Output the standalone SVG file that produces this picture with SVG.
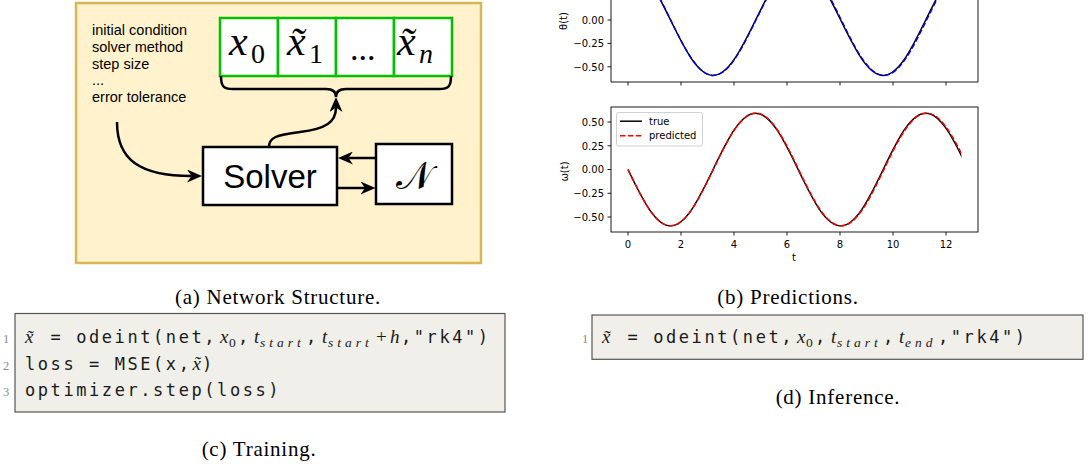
<svg xmlns="http://www.w3.org/2000/svg" width="1088" height="468" viewBox="0 0 1088 468">
<style>
.mono{font-family:"DejaVu Sans Mono",monospace;font-size:17px;letter-spacing:2.57px;fill:#1a1a1a}
.mi{font-family:"Liberation Serif",serif;font-style:italic;font-size:19px;fill:#1a1a1a}
.mr{font-family:"Liberation Serif",serif;font-size:19px;fill:#1a1a1a}
.sub{font-size:13.5px}
.ln{font-family:"Liberation Serif",serif;font-size:12.5px;fill:#8a8a8a}
.tick{font-family:"DejaVu Sans",sans-serif;font-size:10px;fill:#000}
.cap{font-family:"Liberation Serif",serif;font-size:21px;letter-spacing:0.75px;text-anchor:middle;fill:#000}
.arial{font-family:"Liberation Sans",Arial,sans-serif;fill:#000}
.conn{fill:none;stroke:#000;stroke-width:2.5}
.spine{stroke:#000;stroke-width:0.9;fill:none}
.tk{stroke:#000;stroke-width:0.9}
.codebox{fill:#f0efe9;stroke:#555;stroke-width:1.2}
.cell{fill:#fff;stroke:#00c000;stroke-width:2.5}
.big{font-family:"Liberation Serif",serif;font-style:italic;font-size:42px;fill:#000}
.bigsub{font-family:"Liberation Serif",serif;font-size:28px;fill:#000}
</style>
<defs>
<marker id="arr" viewBox="0 0 15 13" markerWidth="15" markerHeight="13" refX="4.5" refY="6.5" orient="auto" markerUnits="userSpaceOnUse">
<path d="M0,0 L15,6.5 L0,13 L4.5,6.5 Z" fill="#000"/>
</marker>
<clipPath id="clipTop"><rect x="611" y="-50" width="350.4" height="132"/></clipPath>
<clipPath id="clipBot"><rect x="611" y="107" width="350.4" height="125"/></clipPath>
<path id="theta" d="M628,-35.4 C642.95,-35.4 655.58,-10.6 670.53,20 C685.48,50.6 698.11,75.4 713.06,75.4 C728.01,75.4 740.64,50.6 755.59,20 C770.54,-10.6 783.17,-35.4 798.12,-35.4 C813.07,-35.4 825.7,-10.6 840.65,20 C855.6,50.6 868.23,75.4 883.18,75.4 C898.13,75.4 910.76,50.6 925.71,20 C940.66,-10.6 953.29,-35.4 968.24,-35.4"/>
<path id="omega" d="M628,169.5 C642.95,200.6 655.58,225.8 670.53,225.8 C685.48,225.8 698.11,200.6 713.06,169.5 C728.01,138.4 740.64,113.2 755.59,113.2 C770.54,113.2 783.17,138.4 798.12,169.5 C813.07,200.6 825.7,225.8 840.65,225.8 C855.6,225.8 868.23,200.6 883.18,169.5 C898.13,138.4 910.76,113.2 925.71,113.2 C940.66,113.2 953.29,138.4 968.24,169.5"/>
</defs>

<!-- (a) Network structure -->
<rect id="panelA" x="76" y="3" width="405" height="260" fill="#fff2cc" stroke="#d6b656" stroke-width="2.5"/>

<g id="params" class="arial" font-size="14.5">
<text x="92" y="35">initial condition</text>
<text x="92" y="52">solver method</text>
<text x="92" y="68.5">step size</text>
<text x="92" y="85">...</text>
<text x="92" y="102">error tolerance</text>
</g>

<g id="vector">
<rect class="cell" x="220" y="18" width="58" height="58"/>
<rect class="cell" x="278" y="18" width="58" height="58"/>
<rect class="cell" x="336" y="18" width="58" height="58"/>
<rect class="cell" x="394" y="18" width="58" height="58"/>
<text class="big" x="229" y="55">x</text><text class="bigsub" x="251" y="63">0</text>
<text class="big" x="287" y="55">x&#x303;</text><text class="bigsub" x="309" y="63">1</text>
<text x="350" y="60" font-family="Liberation Serif,serif" font-size="34">...</text>
<text class="big" x="397" y="55">x&#x303;</text><text class="bigsub" x="419" y="63" font-style="italic">n</text>
</g>

<g id="brace">
<path d="M221,76 C221,86 223,89 233,89 L326,89 C333,89 336,92 336,97 C336,92 339,89 346,89 L439,89 C449,89 451,86 451,76" fill="none" stroke="#000" stroke-width="2.5"/>
</g>

<g id="solver">
<rect x="203" y="147" width="134" height="58" fill="#fff" stroke="#000" stroke-width="2.5"/>
<text class="arial" x="270" y="188" font-size="33" text-anchor="middle">Solver</text>
</g>

<g id="nnet">
<rect x="376" y="144" width="76" height="60" fill="#fff" stroke="#000" stroke-width="2.5"/>
<text x="414" y="189" font-family="DejaVu Serif,Liberation Serif,serif" font-size="38" text-anchor="middle">&#x1D4A9;</text>
</g>

<g id="connectors">
<path class="conn" d="M117,122 C117,160 140,176 191.5,176" marker-end="url(#arr)"/>
<path class="conn" d="M269,147 C269,138 275,135 300,132 C326,129 336,122 336,107.5" marker-end="url(#arr)"/>
<path class="conn" d="M376,158 L348.5,158" marker-end="url(#arr)"/>
<path class="conn" d="M337,188 L365,188" marker-end="url(#arr)"/>
</g>

<!-- (b) Predictions -->
<g id="plot-theta">
<g clip-path="url(#clipTop)" fill="none">
<use href="#theta" stroke="#000" stroke-width="1.5"/>
<use href="#theta" stroke="#0000ff" stroke-width="1.5" stroke-dasharray="5.5,2.4" transform="translate(628,0) scale(1.003,1) translate(-628,0)"/>
</g>
<path class="spine" d="M611,-50 L611,82 L978,82 L978,-50"/>
<g class="tk">
<line x1="628" y1="82" x2="628" y2="85.5"/><line x1="681" y1="82" x2="681" y2="85.5"/><line x1="734" y1="82" x2="734" y2="85.5"/><line x1="787" y1="82" x2="787" y2="85.5"/><line x1="840" y1="82" x2="840" y2="85.5"/><line x1="893" y1="82" x2="893" y2="85.5"/><line x1="946" y1="82" x2="946" y2="85.5"/>
<line x1="607.5" y1="-3.4" x2="611" y2="-3.4"/><line x1="607.5" y1="20" x2="611" y2="20"/><line x1="607.5" y1="43.4" x2="611" y2="43.4"/><line x1="607.5" y1="66.8" x2="611" y2="66.8"/>
</g>
<g class="tick" text-anchor="end">
<text x="604" y="0.3">0.25</text>
<text x="604" y="23.7">0.00</text>
<text x="604" y="47.1">&#x2212;0.25</text>
<text x="604" y="70.5">&#x2212;0.50</text>
</g>
<text class="tick" transform="rotate(-90 567 21)" x="567" y="21" text-anchor="middle">θ(t)</text>
</g>

<g id="plot-omega">
<g clip-path="url(#clipBot)" fill="none">
<use href="#omega" stroke="#000" stroke-width="1.5"/>
<use href="#omega" stroke="#ff0000" stroke-width="1.5" stroke-dasharray="5.5,2.4" transform="translate(628,0) scale(1.003,1) translate(-628,0)"/>
</g>
<rect class="spine" x="611" y="107" width="367" height="125"/>
<g class="tk">
<line x1="628" y1="232" x2="628" y2="235.5"/><line x1="681" y1="232" x2="681" y2="235.5"/><line x1="734" y1="232" x2="734" y2="235.5"/><line x1="787" y1="232" x2="787" y2="235.5"/><line x1="840" y1="232" x2="840" y2="235.5"/><line x1="893" y1="232" x2="893" y2="235.5"/><line x1="946" y1="232" x2="946" y2="235.5"/>
<line x1="607.5" y1="122" x2="611" y2="122"/><line x1="607.5" y1="145.8" x2="611" y2="145.8"/><line x1="607.5" y1="169.5" x2="611" y2="169.5"/><line x1="607.5" y1="193.3" x2="611" y2="193.3"/><line x1="607.5" y1="217" x2="611" y2="217"/>
</g>
<g class="tick" text-anchor="end">
<text x="604" y="125.7">0.50</text>
<text x="604" y="149.5">0.25</text>
<text x="604" y="173.2">0.00</text>
<text x="604" y="197">&#x2212;0.25</text>
<text x="604" y="220.7">&#x2212;0.50</text>
</g>
<g class="tick" text-anchor="middle">
<text x="628" y="247.5">0</text><text x="681" y="247.5">2</text><text x="734" y="247.5">4</text><text x="787" y="247.5">6</text><text x="840" y="247.5">8</text><text x="893" y="247.5">10</text><text x="946" y="247.5">12</text>
<text x="794" y="260.5">t</text>
</g>
<text class="tick" transform="rotate(-90 567.5 171.5)" x="567.5" y="171.5" text-anchor="middle">ω(t)</text>
<g id="legend">
<rect x="616.5" y="112.5" width="86" height="33.5" rx="2" fill="#fff" fill-opacity="0.8" stroke="#ccc" stroke-width="0.9"/>
<line x1="620" y1="121.2" x2="642" y2="121.2" stroke="#000" stroke-width="1.5"/>
<line x1="620" y1="135.8" x2="642" y2="135.8" stroke="#ff0000" stroke-width="1.5" stroke-dasharray="5.5,2.4"/>
<text class="tick" x="649" y="125">true</text>
<text class="tick" x="649" y="138.8">predicted</text>
</g>
</g>

<!-- (c) Training code -->
<g id="code-train">
<rect class="codebox" x="15" y="313.5" width="490" height="98.5"/>
<text class="ln" x="3" y="343">1</text>
<text class="ln" x="3" y="369.5">2</text>
<text class="ln" x="3" y="396">3</text>
<text class="mi" x="25" y="343">x&#x303;</text>
<text class="mono" x="50.6" y="343" xml:space="preserve">= odeint(net,</text>
<text class="mi" x="220" y="343">x</text><text class="mr sub" x="229" y="346.5">0</text>
<text class="mono" x="238" y="343">,</text>
<text class="mi" x="254" y="343">t</text><text class="mi sub" x="260" y="347" letter-spacing="4">start</text>
<text class="mono" x="306" y="343">,</text>
<text class="mi" x="322" y="343">t</text><text class="mi sub" x="328" y="347" letter-spacing="4">start</text>
<text class="mr" x="376" y="343">+</text>
<text class="mi" x="390" y="343">h</text>
<text class="mono" x="401" y="343">,"rk4")</text>
<text class="mono" x="25" y="369.5" xml:space="preserve">loss = MSE(x,</text>
<text class="mi" x="192.5" y="369.5">x&#x303;</text>
<text class="mono" x="202" y="369.5">)</text>
<text class="mono" x="25" y="396">optimizer.step(loss)</text>
</g>

<!-- (d) Inference code -->
<g id="code-infer">
<rect class="codebox" x="592" y="315" width="491" height="44.3"/>
<text class="ln" x="582" y="343">1</text>
<text class="mi" x="602" y="343">x&#x303;</text>
<text class="mono" x="627.6" y="343" xml:space="preserve">= odeint(net,</text>
<text class="mi" x="797" y="343">x</text><text class="mr sub" x="806" y="346.5">0</text>
<text class="mono" x="815" y="343">,</text>
<text class="mi" x="831" y="343">t</text><text class="mi sub" x="837" y="347" letter-spacing="4">start</text>
<text class="mono" x="883" y="343">,</text>
<text class="mi" x="899" y="343">t</text><text class="mi sub" x="905" y="347" letter-spacing="4">end</text>
<text class="mono" x="938" y="343">,"rk4")</text>
</g>

<g id="captions">
<text class="cap" x="278" y="304">(a) Network Structure.</text>
<text class="cap" x="788" y="304">(b) Predictions.</text>
<text class="cap" x="259" y="456">(c) Training.</text>
<text class="cap" x="838" y="404">(d) Inference.</text>
</g>
</svg>
